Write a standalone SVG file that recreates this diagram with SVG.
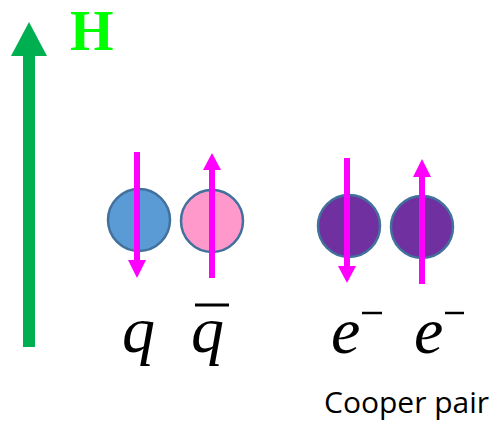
<svg xmlns="http://www.w3.org/2000/svg" width="495" height="423" viewBox="0 0 495 423">
<style>
.particle{stroke:#41719C;stroke-width:2.5}
.spin{stroke:#FF00FF;stroke-width:6;fill:none}
.head{fill:#FF00FF}
.sym{font-family:"Liberation Serif",serif;font-style:italic;font-size:66px;fill:#000}
.sup{stroke:#000;stroke-width:2.5}
</style>
<rect width="495" height="423" fill="#fff"/>
<g id="field">
<rect x="23" y="55" width="12" height="292" fill="#00B050"/>
<polygon points="29,22 11,56 47,56" fill="#00B050"/>
<text x="70" y="50" font-family="Liberation Serif,serif" font-weight="bold" font-size="56" fill="#00FF00">H</text>
</g>
<g id="quark">
<circle class="particle" cx="139" cy="220" r="31" fill="#5B9BD5"/>
<text class="sym" x="122" y="352">q</text>
</g>
<g id="antiquark">
<circle class="particle" cx="212" cy="221" r="31" fill="#FF99CC"/>
<text class="sym" x="191" y="352">q</text>
<line x1="195" y1="305" x2="229" y2="305" stroke="#000" stroke-width="3"/>
</g>
<g id="electron1">
<circle class="particle" cx="349" cy="226" r="31" fill="#7030A0"/>
<text class="sym" x="331" y="353">e</text>
<line class="sup" x1="362" y1="313" x2="382" y2="313"/>
</g>
<g id="electron2">
<circle class="particle" cx="422" cy="227" r="31" fill="#7030A0"/>
<text class="sym" x="414" y="353">e</text>
<line class="sup" x1="445" y1="313" x2="464" y2="313"/>
</g>
<g id="spins">
<line class="spin" x1="137" y1="152" x2="137" y2="262"/>
<polygon class="head" points="128,260 146,260 137,278"/>
<line class="spin" x1="212" y1="168" x2="212" y2="278"/>
<polygon class="head" points="203,170 221,170 212,153"/>
<line class="spin" x1="347" y1="158" x2="347" y2="268"/>
<polygon class="head" points="338,266 356,266 347,283"/>
<line class="spin" x1="422" y1="175" x2="422" y2="284"/>
<polygon class="head" points="413,177 431,177 422,159"/>
</g>
<text id="label" x="324" y="413" font-family="Open Sans,Liberation Sans,sans-serif" font-size="30" fill="#000">Cooper pair</text>
</svg>
